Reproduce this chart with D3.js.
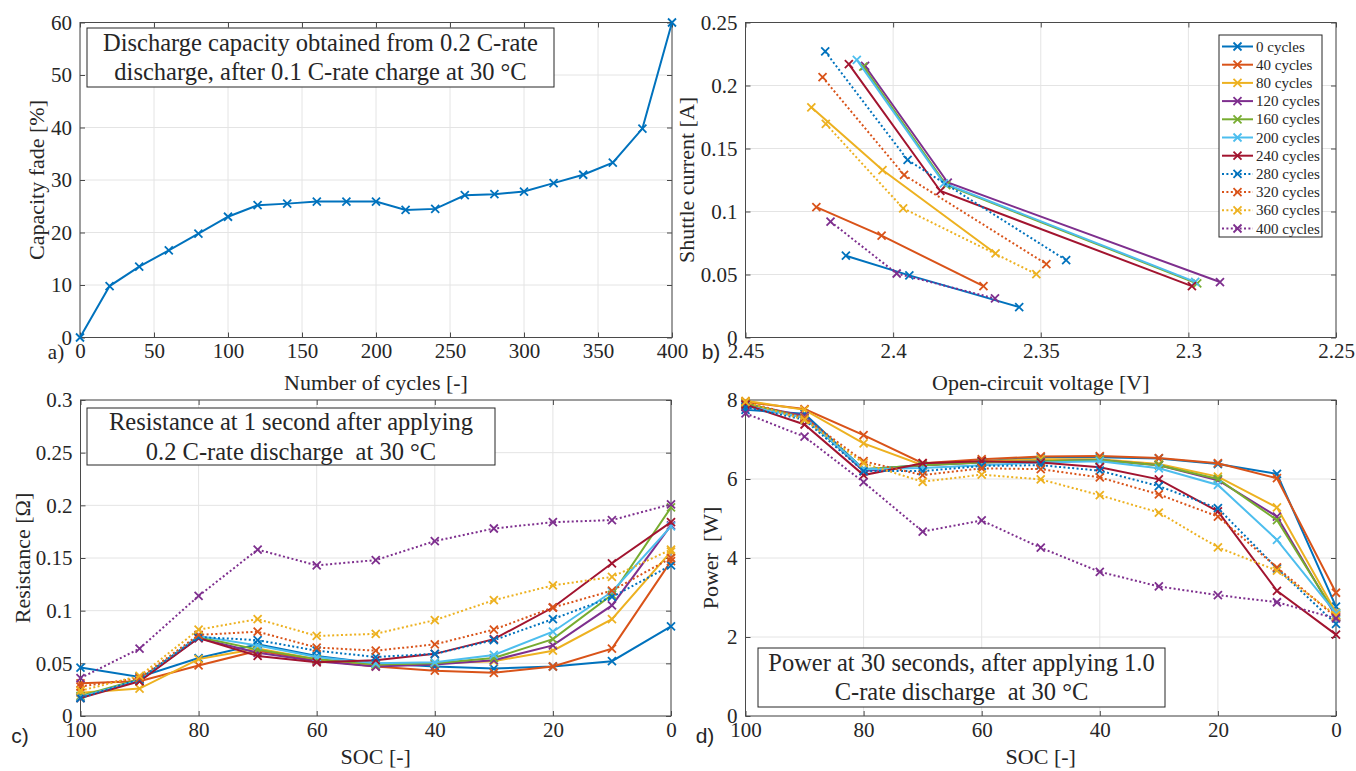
<!DOCTYPE html>
<html>
<head>
<meta charset="utf-8">
<script src="https://cdn.jsdelivr.net/npm/d3@7"></script>
<style>
  html, body { margin: 0; padding: 0; background: #ffffff; }
  svg { display: block; }
</style>
</head>
<body>
<svg id="fig" width="1356" height="771"></svg>
<script>
// ---------- data ----------
// a) capacity fade vs. cycle number
const capCycles = [0, 20, 40, 60, 80, 100, 120, 140, 160, 180, 200, 220, 240, 260, 280, 300, 320, 340, 360, 380, 400];
const capacityFade = [0, 9.8, 13.5, 16.6, 19.8, 23.0, 25.2, 25.5, 25.9, 25.9, 25.9, 24.3, 24.5, 27.1, 27.3, 27.8, 29.4, 31.0, 33.3, 39.8, 60];

// ageing states shared by panels b-d
const agingCycles = [0, 40, 80, 120, 160, 200, 240, 280, 320, 360, 400];

// b) shuttle current vs. open-circuit voltage (one row per ageing state)
const ocvVoltage = [
  [2.416, 2.3945, 2.3573],
  [2.426, 2.4039, 2.3694],
  [2.4277, 2.4036, 2.3653],
  [2.4095, 2.3815, 2.2893],
  [2.4101, 2.382, 2.297],
  [2.4123, 2.3828, 2.2977],
  [2.415, 2.384, 2.2988],
  [2.423, 2.3951, 2.3414],
  [2.4239, 2.3963, 2.3481],
  [2.4228, 2.3966, 2.3515],
  [2.4212, 2.3988, 2.3655]
];
const shuttleCurrent = [
  [0.0649, 0.0493, 0.0241],
  [0.1035, 0.0808, 0.0408],
  [0.1827, 0.1329, 0.0667],
  [0.2155, 0.123, 0.044],
  [0.215, 0.121, 0.0429],
  [0.2203, 0.1224, 0.0442],
  [0.2169, 0.1163, 0.0408],
  [0.227, 0.1409, 0.0614],
  [0.2066, 0.129, 0.0583],
  [0.1695, 0.1025, 0.0503],
  [0.0919, 0.0508, 0.031]
];

// c), d) state of charge grid
const socLevels = [100, 90, 80, 70, 60, 50, 40, 30, 20, 10, 0];

// c) resistance at 1 s
const resistance = [
  [0.046, 0.037, 0.055, 0.068, 0.057, 0.050, 0.047, 0.045, 0.047, 0.052, 0.085],
  [0.031, 0.033, 0.048, 0.062, 0.053, 0.047, 0.043, 0.041, 0.047, 0.064, 0.147],
  [0.022, 0.026, 0.054, 0.064, 0.054, 0.048, 0.050, 0.052, 0.062, 0.092, 0.156],
  [0.018, 0.034, 0.074, 0.060, 0.052, 0.047, 0.049, 0.053, 0.067, 0.105, 0.181],
  [0.019, 0.035, 0.075, 0.063, 0.054, 0.049, 0.050, 0.055, 0.073, 0.115, 0.198],
  [0.018, 0.034, 0.076, 0.067, 0.056, 0.050, 0.051, 0.058, 0.080, 0.118, 0.180],
  [0.017, 0.033, 0.074, 0.057, 0.051, 0.053, 0.059, 0.073, 0.103, 0.145, 0.184],
  [0.017, 0.035, 0.075, 0.072, 0.062, 0.056, 0.059, 0.072, 0.092, 0.113, 0.143],
  [0.028, 0.036, 0.077, 0.080, 0.065, 0.062, 0.068, 0.082, 0.103, 0.119, 0.150],
  [0.024, 0.038, 0.082, 0.092, 0.076, 0.078, 0.091, 0.110, 0.124, 0.132, 0.158],
  [0.036, 0.064, 0.114, 0.158, 0.143, 0.148, 0.166, 0.178, 0.184, 0.186, 0.201]
];

// d) power at 30 s
const power = [
  [7.75, 7.65, 6.25, 6.35, 6.45, 6.55, 6.55, 6.52, 6.38, 6.13, 2.77],
  [7.95, 7.77, 7.11, 6.40, 6.50, 6.57, 6.58, 6.53, 6.40, 6.02, 3.12],
  [7.98, 7.75, 6.90, 6.35, 6.45, 6.50, 6.50, 6.38, 6.06, 5.28, 2.62],
  [7.90, 7.60, 6.20, 6.35, 6.42, 6.45, 6.48, 6.35, 5.97, 5.05, 2.52],
  [7.92, 7.55, 6.25, 6.35, 6.42, 6.45, 6.48, 6.35, 6.00, 4.96, 2.56],
  [7.85, 7.55, 6.25, 6.28, 6.35, 6.42, 6.45, 6.27, 5.85, 4.46, 2.60],
  [7.88, 7.38, 6.10, 6.40, 6.45, 6.42, 6.30, 5.99, 5.18, 3.17, 2.06],
  [7.82, 7.50, 6.20, 6.20, 6.33, 6.35, 6.21, 5.82, 5.26, 3.74, 2.33],
  [7.95, 7.55, 6.45, 6.10, 6.27, 6.25, 6.04, 5.61, 5.05, 3.76, 2.50],
  [7.95, 7.50, 6.40, 5.93, 6.11, 5.99, 5.59, 5.15, 4.27, 3.68, 2.55],
  [7.66, 7.07, 5.92, 4.67, 4.95, 4.26, 3.65, 3.28, 3.06, 2.88, 2.47]
];

// tick values
const capTicksX = [0, 50, 100, 150, 200, 250, 300, 350, 400];
const capTicksY = [0, 10, 20, 30, 40, 50, 60];
const ocvTicks = [2.45, 2.4, 2.35, 2.3, 2.25];
const shuttleTicks = [0, 0.05, 0.1, 0.15, 0.2, 0.25];
const socTicks = [100, 80, 60, 40, 20, 0];
const resTicks = [0, 0.05, 0.1, 0.15, 0.2, 0.25, 0.3];
const powerTicks = [0, 2, 4, 6, 8];

// ---------- styling ----------
const palette = ["#0072BD", "#D95319", "#EDB120", "#7E2F8E", "#77AC30", "#4DBEEE", "#A2142F"];
const seriesColor = i => palette[i % palette.length];
const seriesDash = i => (i >= palette.length ? "2,2.4" : null);
const SERIF = "'Liberation Serif', 'Times New Roman', serif";
const SANS = "'Liberation Sans', Arial, sans-serif";
const INK = "#262626";
const FRAME = "#4a4a4a";
const GRID = "#e4e4e4";
const fmt = d3.format("~g");

const svg = d3.select("#fig");
svg.append("rect").attr("width", 1356).attr("height", 771).attr("fill", "#ffffff");

function makePanel(o) {
  const g = svg.append("g");
  const x = d3.scaleLinear().domain(o.xDomain).range([o.left, o.right]);
  const y = d3.scaleLinear().domain(o.yDomain).range([o.bottom, o.top]);

  // grid
  g.append("g").selectAll("line").data(o.xTicks).join("line")
    .attr("x1", d => x(d)).attr("x2", d => x(d))
    .attr("y1", o.top).attr("y2", o.bottom)
    .attr("stroke", GRID).attr("stroke-width", 1);
  g.append("g").selectAll("line").data(o.yTicks).join("line")
    .attr("x1", o.left).attr("x2", o.right)
    .attr("y1", d => y(d)).attr("y2", d => y(d))
    .attr("stroke", GRID).attr("stroke-width", 1);

  const style = sel => {
    sel.attr("font-family", SERIF).attr("font-size", 21).attr("color", INK);
    sel.select(".domain").remove();
    sel.selectAll(".tick line").attr("stroke", FRAME);
  };
  g.append("g").attr("transform", `translate(0,${o.bottom})`)
    .call(d3.axisBottom(x).tickValues(o.xTicks).tickFormat(fmt).tickSizeInner(-5).tickSizeOuter(0).tickPadding(6))
    .call(style);
  g.append("g").attr("transform", `translate(0,${o.top})`)
    .call(d3.axisTop(x).tickValues(o.xTicks).tickFormat("").tickSizeInner(-5).tickSizeOuter(0))
    .call(style);
  g.append("g").attr("transform", `translate(${o.left},0)`)
    .call(d3.axisLeft(y).tickValues(o.yTicks).tickFormat(fmt).tickSizeInner(-5).tickSizeOuter(0).tickPadding(8))
    .call(style);
  g.append("g").attr("transform", `translate(${o.right},0)`)
    .call(d3.axisRight(y).tickValues(o.yTicks).tickFormat("").tickSizeInner(-5).tickSizeOuter(0))
    .call(style);

  // axes box
  g.append("rect")
    .attr("x", o.left).attr("y", o.top)
    .attr("width", o.right - o.left).attr("height", o.bottom - o.top)
    .attr("fill", "none").attr("stroke", FRAME).attr("stroke-width", 1);

  // axis titles
  g.append("text")
    .attr("x", (o.left + o.right) / 2).attr("y", o.xLabelY)
    .attr("text-anchor", "middle").attr("font-family", SERIF).attr("font-size", 22)
    .attr("fill", INK).text(o.xLabel);
  g.append("text")
    .attr("transform", `translate(${o.yLabelX},${(o.top + o.bottom) / 2}) rotate(-90)`)
    .attr("text-anchor", "middle").attr("font-family", SERIF).attr("font-size", 22)
    .attr("fill", INK).style("white-space", "pre").text(o.yLabel);

  // panel tag
  g.append("text")
    .attr("x", o.tagX).attr("y", o.tagY)
    .attr("text-anchor", "middle").attr("font-family", o.tagFont).attr("font-size", 21)
    .attr("fill", INK).text(o.tag);

  return { g, x, y };
}

function drawSeries(p, xs, ys, i) {
  const pts = xs.map((v, k) => [p.x(v), p.y(ys[k])]);
  const grp = p.g.append("g");
  grp.append("path")
    .attr("d", d3.line()(pts))
    .attr("fill", "none").attr("stroke", seriesColor(i)).attr("stroke-width", 2)
    .attr("stroke-dasharray", seriesDash(i));
  grp.selectAll("path.mk").data(pts).join("path").attr("class", "mk")
    .attr("d", d => `M${d[0] - 4},${d[1] - 4}L${d[0] + 4},${d[1] + 4}M${d[0] - 4},${d[1] + 4}L${d[0] + 4},${d[1] - 4}`)
    .attr("stroke", seriesColor(i)).attr("stroke-width", 1.8).attr("fill", "none");
}

function noteBox(p, box, lines, fontSize) {
  p.g.append("rect")
    .attr("x", box[0]).attr("y", box[1]).attr("width", box[2] - box[0]).attr("height", box[3] - box[1])
    .attr("fill", "#ffffff").attr("stroke", INK).attr("stroke-width", 1);
  p.g.selectAll(null).data(lines).join("text")
    .attr("x", (box[0] + box[2]) / 2).attr("y", d => d.y)
    .attr("text-anchor", "middle").attr("font-family", SERIF).attr("font-size", fontSize)
    .attr("fill", INK).style("white-space", "pre").text(d => d.t);
}

// ---------- a) ----------
const pa = makePanel({
  left: 80, right: 672, top: 22.5, bottom: 337.5,
  xDomain: [0, 400], yDomain: [0, 60], xTicks: capTicksX, yTicks: capTicksY,
  xLabel: "Number of cycles [-]", xLabelY: 390,
  yLabel: "Capacity fade [%]", yLabelX: 44,
  tag: "a)", tagX: 56, tagY: 359, tagFont: SERIF
});
drawSeries(pa, capCycles, capacityFade, 0);
noteBox(pa, [87, 28, 554, 87], [
  { t: "Discharge capacity obtained from 0.2 C-rate", y: 51 },
  { t: "discharge, after 0.1 C-rate charge at 30 °C", y: 80 }
], 24.5);

// ---------- b) ----------
const pb = makePanel({
  left: 745.5, right: 1336, top: 22.5, bottom: 337.5,
  xDomain: [2.45, 2.25], yDomain: [0, 0.25], xTicks: ocvTicks, yTicks: shuttleTicks,
  xLabel: "Open-circuit voltage [V]", xLabelY: 390,
  yLabel: "Shuttle current [A]", yLabelX: 694,
  tag: "b)", tagX: 711, tagY: 359, tagFont: SANS
});
agingCycles.forEach((c, i) => drawSeries(pb, ocvVoltage[i], shuttleCurrent[i], i));

// legend
const lg = pb.g.append("g");
lg.append("rect").attr("x", 1219).attr("y", 35).attr("width", 103).attr("height", 202)
  .attr("fill", "#ffffff").attr("stroke", INK).attr("stroke-width", 1);
agingCycles.forEach((c, i) => {
  const yc = 46.5 + 18.2 * i;
  lg.append("line").attr("x1", 1222).attr("x2", 1253).attr("y1", yc).attr("y2", yc)
    .attr("stroke", seriesColor(i)).attr("stroke-width", 2).attr("stroke-dasharray", seriesDash(i));
  lg.append("path")
    .attr("d", `M${1237.5 - 4},${yc - 4}L${1237.5 + 4},${yc + 4}M${1237.5 - 4},${yc + 4}L${1237.5 + 4},${yc - 4}`)
    .attr("stroke", seriesColor(i)).attr("stroke-width", 1.8);
  lg.append("text").attr("x", 1256).attr("y", yc + 5)
    .attr("font-family", SERIF).attr("font-size", 15).attr("fill", INK)
    .text(`${c} cycles`);
});

// ---------- c) ----------
const pc = makePanel({
  left: 80.5, right: 671, top: 400, bottom: 716,
  xDomain: [100, 0], yDomain: [0, 0.3], xTicks: socTicks, yTicks: resTicks,
  xLabel: "SOC [-]", xLabelY: 764,
  yLabel: "Resistance [Ω]", yLabelX: 30,
  tag: "c)", tagX: 20, tagY: 743, tagFont: SANS
});
agingCycles.forEach((c, i) => drawSeries(pc, socLevels, resistance[i], i));
noteBox(pc, [87, 408, 495, 465], [
  { t: "Resistance at 1 second after applying", y: 430 },
  { t: "0.2 C-rate discharge  at 30 °C", y: 460 }
], 24.5);

// ---------- d) ----------
const pd = makePanel({
  left: 745.5, right: 1336, top: 400, bottom: 716,
  xDomain: [100, 0], yDomain: [0, 8], xTicks: socTicks, yTicks: powerTicks,
  xLabel: "SOC [-]", xLabelY: 764,
  yLabel: "Power  [W]", yLabelX: 718,
  tag: "d)", tagX: 705, tagY: 743, tagFont: SANS
});
agingCycles.forEach((c, i) => drawSeries(pd, socLevels, power[i], i));
noteBox(pd, [758, 648, 1165, 707], [
  { t: "Power at 30 seconds, after applying 1.0", y: 671 },
  { t: "C-rate discharge  at 30 °C", y: 700 }
], 24.5);
</script>
</body>
</html>
